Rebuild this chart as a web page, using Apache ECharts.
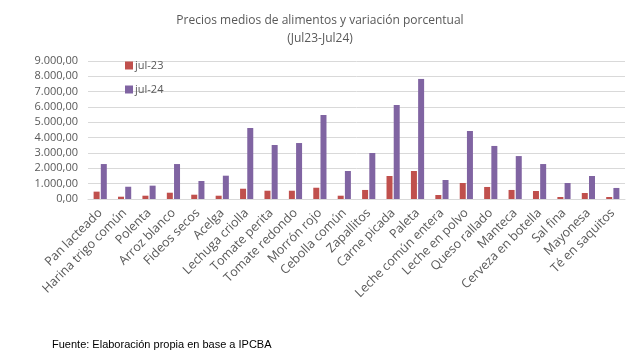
<!DOCTYPE html>
<html><head><meta charset="utf-8">
<script src="https://cdn.jsdelivr.net/npm/echarts@6/dist/echarts.min.js"></script>
<style>html,body{margin:0;padding:0;background:#fff}#c{width:640px;height:360px}</style>
</head><body><div id="c"></div>
<script>
var categories = ["Pan lacteado","Harina trigo común","Polenta","Arroz blanco","Fideos secos","Acelga","Lechuga criolla","Tomate perita","Tomate redondo","Morrón rojo","Cebolla común","Zapallitos","Carne picada","Paleta","Leche común entera","Leche en polvo","Queso rallado","Manteca","Cerveza en botella","Sal fina","Mayonesa","Té en saquitos"];
var jul23 = [480,150,215,410,280,215,670,540,540,735,215,590,1500,1825,260,1045,785,590,520,130,390,130];
var jul24 = [2280,800,870,2280,1175,1520,4630,3520,3650,5480,1825,3000,6130,7830,1240,4435,3460,2800,2280,1045,1500,720];
var seriesNames = ["jul-23","jul-24"];
var titleLines = ["Precios medios de alimentos y variación porcentual","(Jul23-Jul24)"];
var sourceText = "Fuente: Elaboración propia en base a IPCBA";

function fmt(v){
  var s = Math.round(v).toString().replace(/\B(?=(\d{3})+(?!\d))/g, ".");
  return s + ",00";
}
var tfont = '"Open Sans"';
var chart = echarts.init(document.getElementById('c'), null, {renderer:'canvas'});
chart.setOption({
  animation:false,
  backgroundColor:'#fff',
  graphic:[
    {type:'text',x:320,y:20,scaleX:0.89,style:{text:titleLines[0],font:'13.5px '+tfont,fill:'#595959',align:'center',verticalAlign:'middle'}},
    {type:'text',x:320,y:38,scaleX:0.89,style:{text:titleLines[1],font:'13.5px '+tfont,fill:'#595959',align:'center',verticalAlign:'middle'}},
    {type:'text',left:52,top:339,style:{text:sourceText,font:'11px "Liberation Sans"',fill:'#000'}}
  ],
  legend:{orient:'vertical',left:120,top:55,itemWidth:8,itemHeight:8,itemGap:13,icon:'rect',
    textStyle:{fontFamily:'Open Sans',fontSize:11,color:'#595959',padding:[0,0,0,-3]},data:seriesNames},
  grid:{left:88,right:15,top:61,bottom:161,containLabel:false},
  xAxis:{type:'category',data:categories,
    axisLine:{lineStyle:{color:'#d9d9d9'}},axisTick:{show:false},
    axisLabel:{rotate:45,interval:0,fontFamily:'Open Sans',fontSize:12.5,color:'#595959',margin:12}},
  yAxis:{type:'value',min:0,max:9000,interval:1000,
    axisLine:{show:false},axisTick:{show:false},
    splitLine:{lineStyle:{color:'#d9d9d9'}},
    axisLabel:{formatter:fmt,fontFamily:'Open Sans',fontSize:11,color:'#595959',margin:10}},
  series:[
    {name:seriesNames[0],type:'bar',data:jul23,barWidth:6,barGap:'20%',itemStyle:{color:'#c0504d'}},
    {name:seriesNames[1],type:'bar',data:jul24,barWidth:6,barGap:'20%',itemStyle:{color:'#8064a2'}}
  ]
});
</script></body></html>
